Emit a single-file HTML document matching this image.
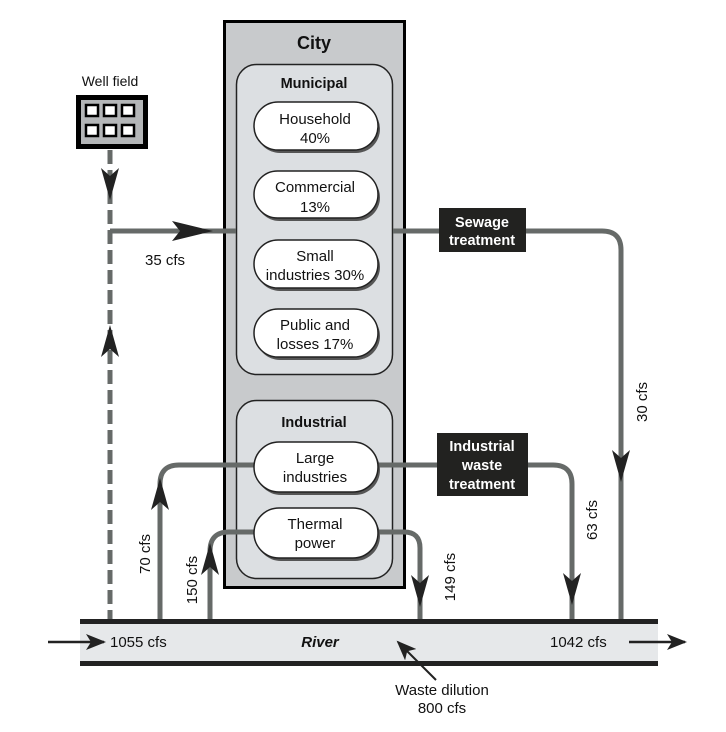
<!DOCTYPE html>
<html><head><meta charset="utf-8"><style>
body{margin:0;background:#fff}
svg text{font-family:"Liberation Sans",sans-serif}
</style></head><body>
<svg width="726" height="727" viewBox="0 0 726 727" xmlns="http://www.w3.org/2000/svg">
<defs>
<marker id="ah" viewBox="0 0 20 16" refX="18" refY="8" markerWidth="20" markerHeight="16" markerUnits="userSpaceOnUse" orient="auto">
<path d="M0,0 L20,8 L0,16 L5,8 Z" fill="#222"/></marker>
</defs>
<rect x="224.5" y="21.5" width="180" height="566" fill="#c8cacc" stroke="#000" stroke-width="3"/>
<text x="314" y="49" font-size="18" font-weight="bold" text-anchor="middle" fill="#111">City</text>
<rect x="236.5" y="64.5" width="156" height="310" rx="20" fill="#dcdfe2" stroke="#222" stroke-width="1.5"/>
<text x="314" y="88" font-size="14.5" font-weight="bold" text-anchor="middle" fill="#111">Municipal</text>
<rect x="236.5" y="400.5" width="156" height="178" rx="20" fill="#dcdfe2" stroke="#222" stroke-width="1.5"/>
<text x="314" y="427" font-size="14.5" font-weight="bold" text-anchor="middle" fill="#111">Industrial</text>

<g stroke="#666a68" stroke-width="5" fill="none">
<path d="M110,231 H236"/>
<path d="M393,231 H602 Q621,231 621,250 V620"/>
<path d="M160,620 V484 Q160,465 179,465 H254"/>
<path d="M378,465 H553 Q572,465 572,484 V620"/>
<path d="M210,620 V551 Q210,532 229,532 H254"/>
<path d="M378,532 H404 Q420,532 420,548 V620"/>
<path d="M110,150 V620" stroke-dasharray="14,6"/>
</g>
<g fill="#222">
<path d="M213,231 L172,221 L180,231 L172,241 Z"/>
<path d="M110,200 L101,168 L110,176 L119,168 Z"/>
<path d="M110,325 L101,357 L110,349 L119,357 Z"/>
<path d="M621,482 L612,450 L621,458 L630,450 Z"/>
<path d="M160,478 L151,510 L160,502 L169,510 Z"/>
<path d="M210,543 L201,575 L210,567 L219,575 Z"/>
<path d="M420,607 L411,575 L420,583 L429,575 Z"/>
<path d="M572,605 L563,573 L572,581 L581,573 Z"/>
</g>

<g stroke="#222" stroke-width="1.5" fill="#fff">
<rect x="256" y="105" width="124" height="48" rx="24" fill="#555" stroke="none"/>
<rect x="254" y="102" width="124" height="48" rx="24"/>
<rect x="256" y="174" width="124" height="47" rx="23.5" fill="#555" stroke="none"/>
<rect x="254" y="171" width="124" height="47" rx="23.5"/>
<rect x="256" y="243" width="124" height="48" rx="24" fill="#555" stroke="none"/>
<rect x="254" y="240" width="124" height="48" rx="24"/>
<rect x="256" y="312" width="124" height="48" rx="24" fill="#555" stroke="none"/>
<rect x="254" y="309" width="124" height="48" rx="24"/>
<rect x="256" y="445" width="124" height="50" rx="25" fill="#555" stroke="none"/>
<rect x="254" y="442" width="124" height="50" rx="25"/>
<rect x="256" y="511" width="124" height="50" rx="25" fill="#555" stroke="none"/>
<rect x="254" y="508" width="124" height="50" rx="25"/>
</g>
<g font-size="15" text-anchor="middle" fill="#111">
<text x="315" y="124">Household</text><text x="315" y="143">40%</text>
<text x="315" y="192">Commercial</text><text x="315" y="212">13%</text>
<text x="315" y="261">Small</text><text x="315" y="280">industries 30%</text>
<text x="315" y="330">Public and</text><text x="315" y="349">losses 17%</text>
<text x="315" y="463">Large</text><text x="315" y="482">industries</text>
<text x="315" y="529">Thermal</text><text x="315" y="548">power</text>
</g>

<rect x="439" y="208" width="87" height="44" fill="#222220"/>
<text x="482" y="227" font-size="14.5" font-weight="bold" fill="#fff" text-anchor="middle">Sewage</text>
<text x="482" y="245" font-size="14.5" font-weight="bold" fill="#fff" text-anchor="middle">treatment</text>
<rect x="437" y="433" width="91" height="63" fill="#222220"/>
<text x="482" y="451" font-size="14.5" font-weight="bold" fill="#fff" text-anchor="middle">Industrial</text>
<text x="482" y="470" font-size="14.5" font-weight="bold" fill="#fff" text-anchor="middle">waste</text>
<text x="482" y="489" font-size="14.5" font-weight="bold" fill="#fff" text-anchor="middle">treatment</text>

<text x="110" y="86" font-size="14" text-anchor="middle" fill="#111">Well field</text>
<rect x="78.5" y="97.5" width="67" height="49" fill="#b4b6b8" stroke="#000" stroke-width="5"/>
<g fill="#fff" stroke="#000" stroke-width="2.5">
<rect x="86" y="105" width="12" height="11"/><rect x="104" y="105" width="12" height="11"/><rect x="122" y="105" width="12" height="11"/>
<rect x="86" y="125" width="12" height="11"/><rect x="104" y="125" width="12" height="11"/><rect x="122" y="125" width="12" height="11"/>
</g>

<g font-size="15" fill="#111">
<text x="145" y="265">35 cfs</text>
<text transform="translate(647,402) rotate(-90)" text-anchor="middle">30 cfs</text>
<text transform="translate(150,554) rotate(-90)" text-anchor="middle">70 cfs</text>
<text transform="translate(197,580) rotate(-90)" text-anchor="middle">150 cfs</text>
<text transform="translate(455,577) rotate(-90)" text-anchor="middle">149 cfs</text>
<text transform="translate(597,520) rotate(-90)" text-anchor="middle">63 cfs</text>
</g>

<rect x="80" y="622" width="578" height="41" fill="#e6e8ea"/>
<rect x="80" y="619" width="578" height="5" fill="#222"/>
<rect x="80" y="661" width="578" height="5" fill="#222"/>
<line x1="48" y1="642" x2="104" y2="642" stroke="#222" stroke-width="2.5" marker-end="url(#ah)"/>
<line x1="629" y1="642" x2="685" y2="642" stroke="#222" stroke-width="2.5" marker-end="url(#ah)"/>
<g font-size="15" fill="#111">
<text x="110" y="647">1055 cfs</text>
<text x="320" y="647" font-weight="bold" font-style="italic" text-anchor="middle">River</text>
<text x="550" y="647">1042 cfs</text>
<text x="442" y="695" text-anchor="middle">Waste dilution</text>
<text x="442" y="713" text-anchor="middle">800 cfs</text>
</g>
<line x1="436" y1="680" x2="398" y2="642" stroke="#222" stroke-width="2" marker-end="url(#ah)"/>
</svg>
</body></html>
